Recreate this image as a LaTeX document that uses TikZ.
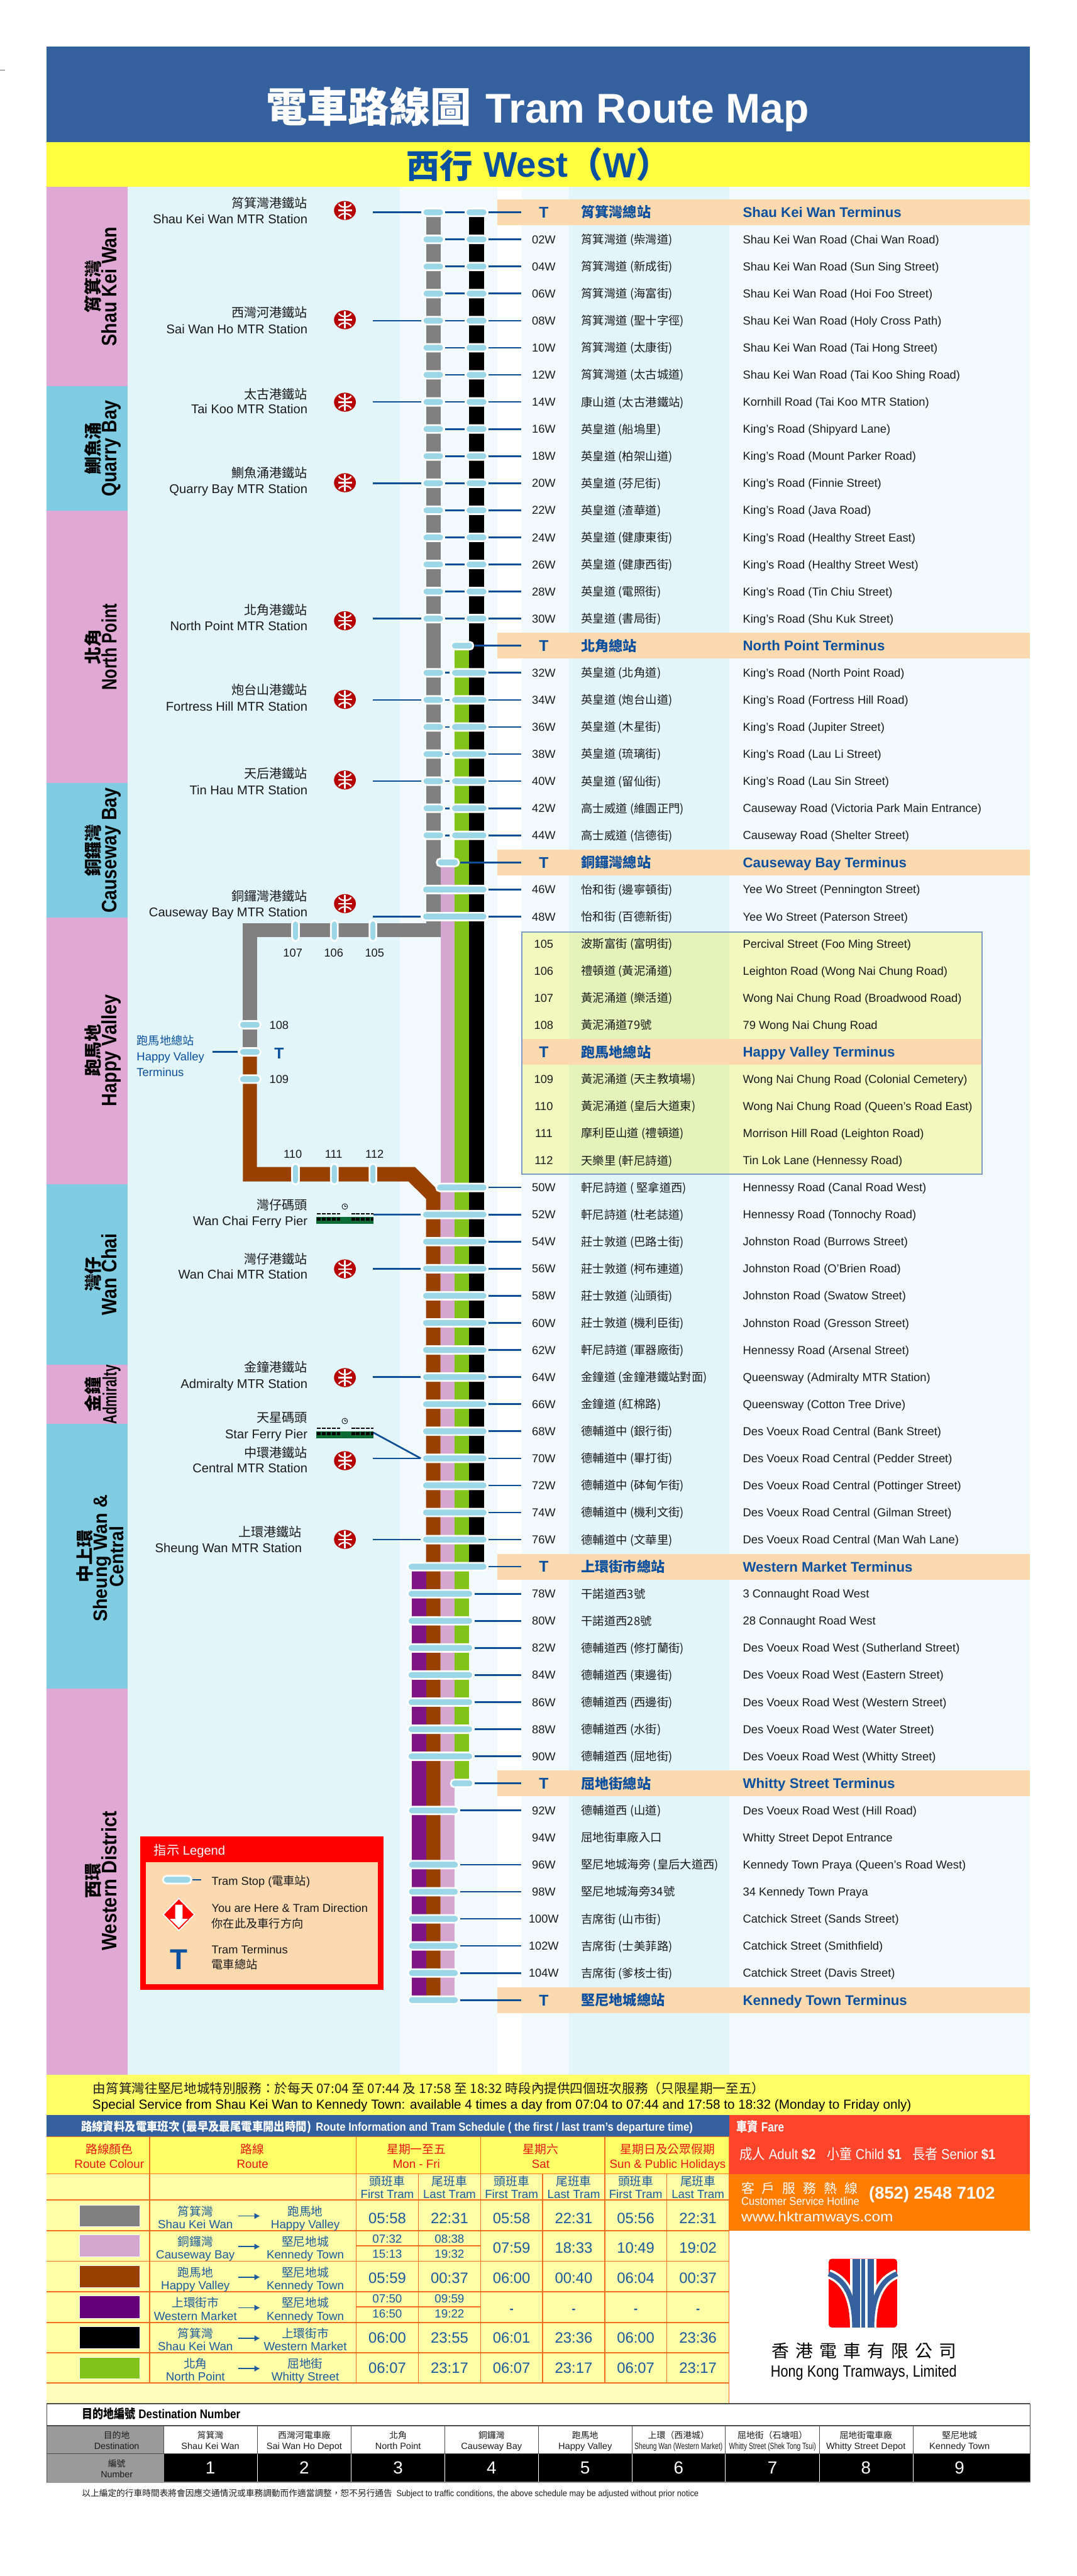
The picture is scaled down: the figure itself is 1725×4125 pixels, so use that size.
\documentclass[tikz,border=0pt]{standalone}
\usepackage{fontspec}
\usepackage{graphicx}
\setmainfont{Liberation Sans}
\newfontfamily\cj{Noto Sans CJK TC}
\usetikzlibrary{shapes.geometric,arrows.meta}
\definecolor{hdrblue}{HTML}{35629F}
\definecolor{hdryel}{HTML}{FFFF40}
\definecolor{notyel}{HTML}{FFFF66}
\definecolor{tabyel}{HTML}{FFFFA8}
\definecolor{botyel}{HTML}{FFFCBC}
\definecolor{dpink}{HTML}{E0A9D5}
\definecolor{dcyan}{HTML}{80CDE3}
\definecolor{bgc}{HTML}{E2F5FA}
\definecolor{bgl}{HTML}{F2FAFD}
\definecolor{band}{HTML}{FDD9B0}
\definecolor{boxl}{HTML}{F2F9BF}
\definecolor{boxd}{HTML}{E3F3B9}
\definecolor{boxline}{HTML}{7F9CC8}
\definecolor{rgrey}{HTML}{808080}
\definecolor{rlilac}{HTML}{D5A6D0}
\definecolor{rgreen}{HTML}{82C31A}
\definecolor{rbrown}{HTML}{984000}
\definecolor{rpurple}{HTML}{7F1484}
\definecolor{swpurple}{HTML}{660078}
\definecolor{pillc}{HTML}{9CD7E8}
\definecolor{lineblue}{HTML}{0C4F97}
\definecolor{tblue}{HTML}{0A509E}
\definecolor{tabblue}{HTML}{1B5A9C}
\definecolor{txtc}{HTML}{1A1A1A}
\definecolor{mtrred}{HTML}{B60000}
\definecolor{tabline}{HTML}{F07020}
\definecolor{tabred}{HTML}{E8170F}
\definecolor{farered}{HTML}{FE442A}
\definecolor{fareor}{HTML}{FF7D00}
\definecolor{ferryg}{HTML}{0B6B35}
\definecolor{destgrey}{HTML}{9A9A9A}
\newcommand\fitw[2]{\resizebox{#1pt}{\height}{#2}}
\tikzset{
 txt/.style={inner sep=0pt,outer sep=0pt,text=txtc},
 tl/.style={txt,anchor=base west},
 tr/.style={txt,anchor=base east},
 tc/.style={txt,anchor=base},
 fs/.style={font=\fontsize{#1}{#1}\selectfont},
 fb/.style={font=\fontsize{#1}{#1}\selectfont\bfseries},
 pill/.style={rectangle,inner sep=0pt,outer sep=2.2pt,draw=white,line width=2.75pt,fill=pillc,rounded corners=5.5pt,minimum height=12.25pt},
 conn/.style={lineblue,line width=2.7pt},
 gridl/.style={tabline,line width=1.6pt},
 destl/.style={black!70,line width=1.5pt},
 distname/.style={txt,anchor=base,rotate=90,text=black},
}
\newcommand\hstop[4]{\node[pill,minimum width=#3pt-#2pt+2.75pt] (#1) at ({(#2+#3)/2},#4) {};}
\newcommand\vstop[2]{\node[pill,minimum width=11pt,minimum height=33pt] (#1) at (#2) {};}
\newcommand\mtrlogo[3]{%
 \node[ellipse,fill=mtrred,draw=none,minimum width=35pt,minimum height=30.5pt,inner sep=0pt] (#1) at (#2,#3) {};
 \begin{scope}[shift={(#2,#3)},white,line width=2.3pt]
 \draw (0,-14) -- (0,14);
 \draw (-11,0) -- (11,0);
 \draw (-10,-10) .. controls (-6,-3.5) and (6,-3.5) .. (10,-10);
 \draw (-10,10) .. controls (-6,3.5) and (6,3.5) .. (10,10);
 \end{scope}}
\newcommand\ferryicon[1]{%
 \begin{scope}[shift={(0,#1)}]
 \draw[black,line width=.8pt] (552.3,-11.5) circle (4.5);
 \draw[black,line width=.6pt] (552.3,-14) -- (552.3,-11.5) -- (554.5,-11.5);
 \fill[bgc!80!white] (545,-4) -- (552,-6) -- (562.5,-4) -- (562.5,5.5) -- (545,5.5) -- cycle;
 \draw[black,line width=1.6pt,dash pattern=on 6pt off 2pt] (508,0) -- (545,0);
 \draw[black,line width=1.6pt,dash pattern=on 6pt off 2pt] (562.5,0) -- (598,0);
 \fill[ferryg] (506.4,5) rectangle (598,15.8);
 \draw[black,line width=4.5pt,dash pattern=on 6pt off 2pt] (508,8.5) -- (545,8.5);
 \draw[black,line width=4.5pt,dash pattern=on 6pt off 2pt] (562.5,8.5) -- (598,8.5);
 \end{scope}}
\begin{document}
\begin{tikzpicture}[x=1pt,y=-1pt]
\useasboundingbox (0,0) rectangle (1725,4125);
\fill[white] (0,0) rectangle (1725,4125);
\draw[black!60,line width=.8pt] (0,112) -- (8,112);
% header
\fill[hdrblue] (75,75) rectangle (1650,228);
\fill[hdryel] (75,228) rectangle (1650,299);
\node[tl,fb=65.7,text=white] (titlezh) at (426.5,196) {\cj 電車路線圖};
\node[tl,fb=66.6,text=white] (titleen) at (778,197) {Tram Route Map};
\node[tl,fb=53,text=tblue] (dirzh) at (651.5,285) {\cj 西行};
\node[tl,fb=57,text=tblue] (diren) at (775,283.5) {West};
\node[tl,fb=56,text=tblue] (dirw) at (910,284) {{\cj （}W{\cj ）}};
% column backgrounds
\fill[bgc] (204,299) rectangle (640,3322);
\fill[bgl] (640,299) rectangle (797,3322);
\fill[white] (797,299) rectangle (835.5,3322);
\fill[bgl] (835.5,299) rectangle (911,3322);
\fill[bgc] (911,299) rectangle (1168,3322);
\fill[bgl] (1168,299) rectangle (1650,3322);
% districts
\fill[dpink] (75,299) rectangle (204,618.3);
\fill[dcyan] (75,618.3) rectangle (204,818);
\fill[dpink] (75,818) rectangle (204,1254);
\fill[dcyan] (75,1254) rectangle (204,1469.4);
\fill[dpink] (75,1469.4) rectangle (204,1896);
\fill[dcyan] (75,1896) rectangle (204,2185);
\fill[dpink] (75,2185) rectangle (204,2280.5);
\fill[dcyan] (75,2280.5) rectangle (204,2704);
\fill[dpink] (75,2704) rectangle (204,3322);
\foreach \k/\yy/\zh/\en/\wdh in {a/458.7/筲箕灣/Shau Kei Wan/191,b/718/鰂魚涌/Quarry Bay/154.7,c/1036/北角/North Point/138.7,d/1361.7/銅鑼灣/Causeway Bay/201,e/1682/跑馬地/Happy Valley/179,f/2040.5/灣仔/Wan Chai/130.8,h/3012/西環/Western District/223.7}{
 \node[distname,fb=28] (dz\k) at (159.3,\yy) {\cj \zh};
 \node[distname,fb=33.5] (de\k) at (186.6,\yy) {\fitw{\wdh}{\en}};
}
\node[distname,fb=28] (dzg) at (159.3,2233) {\cj 金鐘};
\node[distname,fb=31] (deg) at (186.6,2233) {\fitw{95}{Admiralty}};
\node[distname,fb=28] (dzs) at (146.4,2492) {\cj 中上環};
\node[distname,fb=31] (des1) at (172.2,2495.5) {\fitw{203}{Sheung Wan \&}};
\node[distname,fb=31] (des2) at (197.8,2492.8) {\fitw{97.5}{Central}};
% yellow box
\fill[boxl] (835.7,1492.7) rectangle (1572.8,1880);
\fill[boxd] (911,1492.7) rectangle (1168,1880);
% terminus bands
\foreach \rw/\xl/\xr in {0/797/1650,16/797/1650,24/797/1650,50/797/1650,58/797/1650,66/797/1650,31/835.7/1572.8}{
 \pgfmathsetmacro\yy{340+43.375*\rw}
 \fill[band] (\xl,\yy-20.7) rectangle (\xr,\yy+20.7);
}
\draw[boxline,line width=2.4pt] (835.7,1492.7) rectangle (1572.8,1880);
% route bars
\fill[rgrey] (682.5,340) rectangle (705.7,1478);
\fill[rgrey] (389,1478) rectangle (705.7,1501);
\fill[rgrey] (389,1478) rectangle (411.5,1684.5);
\fill[rbrown] (389,1684.5) -- (411.5,1684.5) -- (411.5,1868.7) -- (664.6,1868.7) -- (705.7,1910) -- (705.7,3202.75) -- (682.5,3202.75) -- (682.5,1919.7) -- (654.4,1892) -- (389,1892) -- cycle;
\fill[rlilac] (705.7,1381) rectangle (728.3,3202.75);
\fill[rgreen] (728.3,1034) rectangle (751.7,2855.75);
\fill[black] (751.7,340) rectangle (775,2508.75);
\fill[rpurple] (659.5,2508.75) rectangle (682.5,3202.75);
% stops
\foreach \rw [evaluate=\rw as \yy using 340+43.375*\rw] in {0,...,15}{
 \hstop{g\rw}{678.3}{709.7}{\yy}
 \hstop{s\rw}{747.3}{779.3}{\yy}
 \draw[conn] (g\rw) -- (s\rw);
}
\foreach \rw [evaluate=\rw as \yy using 340+43.375*\rw] in {17,...,23}{
 \hstop{g\rw}{678.3}{709.7}{\yy}
 \hstop{s\rw}{724}{779.3}{\yy}
 \draw[conn] (g\rw) -- (s\rw);
}
\hstop{s16}{724}{756.7}{1034}
\hstop{s24}{701}{733.5}{1381}
\foreach \rw [evaluate=\rw as \yy using 340+43.375*\rw] in {25,26,37,38,39,40,41,42,43,44,45,46,47,48,49}{
 \hstop{s\rw}{677.5}{779.4}{\yy}
}
\hstop{s36}{700}{779.4}{1901.5}
\hstop{s50}{654.3}{779.3}{2508.75}
\foreach \rw [evaluate=\rw as \yy using 340+43.375*\rw] in {51,...,57}{
 \hstop{s\rw}{654.3}{756.5}{\yy}
}
\hstop{s58}{723.5}{756.7}{2855.75}
\foreach \rw [evaluate=\rw as \yy using 340+43.375*\rw] in {59,61,62,63,64,65,66}{
 \hstop{s\rw}{655}{733.5}{\yy}
}
% connectors to the table
\foreach \rw [evaluate=\rw as \yy using 340+43.375*\rw] in {0,...,26,36,37,...,59,61,62,63,64,65,66}{
 \coordinate (e\rw) at (835.3,\yy);
 \draw[conn] (s\rw.east |- e\rw) -- (e\rw);
}
% branch stops
\vstop{b105}{597.3,1490.4}
\vstop{b106}{535.5,1490.4}
\vstop{b107}{473.3,1490.4}
\vstop{b110}{473.3,1880}
\vstop{b111}{535.5,1880}
\vstop{b112}{597.3,1880}
\hstop{b108}{384.5}{416}{1641}
\hstop{bT}{384.5}{416}{1684.5}
\hstop{b109}{384.5}{416}{1728}
\coordinate (hvline) at (340,1684.5);
\draw[conn] (hvline) -- (bT);
\foreach \k/\cx/\yy/\lab in {105/600/1532/105,106/534.5/1532/106,107/469/1532/107,108/447/1647.6/108,109/447/1734.6/109,110/469/1854.4/110,111/534.5/1854.4/111,112/600/1854.4/112}{
 \node[tc,fs=18.4] (lab\k) at (\cx,\yy) {\lab};
}
\node[tc,fb=25,text=tblue] (labT) at (447,1695) {T};
\node[tl,fs=18.4,text=tblue] (hvz) at (219,1673.7) {\cj 跑馬地總站};
\node[tl,fs=18.6,text=tblue] (hve1) at (219,1698.6) {Happy Valley};
\node[tl,fs=18.6,text=tblue] (hve2) at (219,1723.6) {Terminus};
% MTR stations
\foreach \k/\rw/\ly/\zy/\ey/\zh/\en in {
 0/0/337/325.5/351/筲箕灣港鐵站/Shau Kei Wan MTR Station,
 1/4/512/500.4/526.5/西灣河港鐵站/Sai Wan Ho MTR Station,
 2/7/644/631/655/太古港鐵站/Tai Koo MTR Station,
 3/10/773/757/783/鰂魚涌港鐵站/Quarry Bay MTR Station,
 4/15/994/977/1002/北角港鐵站/North Point MTR Station,
 5/18/1120/1105/1131/炮台山港鐵站/Fortress Hill MTR Station,
 6/21/1249/1239/1265/天后港鐵站/Tin Hau MTR Station}{
 \mtrlogo{m\k}{552.5}{\ly}
 \pgfmathsetmacro\lyy{340+43.375*\rw}
 \coordinate (ml\k) at (597,\lyy);
 \draw[conn] (ml\k) -- (g\rw);
 \node[tr,fs=20.3] (mz\k) at (492.5,\zy+7.7) {\cj \zh};
 \node[tr,fs=20.3] (me\k) at (492.5,\ey+7.3) {\en};
}
\foreach \k/\rw/\ly/\zy/\ey/\xr/\zh/\en in {
 7/26/1447/1434.6/1461/492.5/銅鑼灣港鐵站/Causeway Bay MTR Station,
 8/39/2032/2016/2041/492.5/灣仔港鐵站/Wan Chai MTR Station,
 9/43/2206/2189.4/2216/492.5/金鐘港鐵站/Admiralty MTR Station,
 10/46/2339/2326/2351/492.5/中環港鐵站/Central MTR Station,
 11/49/2465/2453.5/2479/483.5/上環港鐵站/Sheung Wan MTR Station}{
 \mtrlogo{m\k}{552.5}{\ly}
 \pgfmathsetmacro\lyy{340+43.375*\rw}
 \coordinate (ml\k) at (597,\lyy);
 \draw[conn] (ml\k) -- (s\rw);
 \node[tr,fs=20.3] (mz\k) at (\xr,\zy+7.7) {\cj \zh};
 \node[tr,fs=20.3] (me\k) at (\xr,\ey+7.3) {\en};
}
% ferries
\ferryicon{1943.5}
\node[tr,fs=20.3] (wfz) at (492.5,1937.3) {\cj 灣仔碼頭};
\node[tr,fs=20.3] (wfe) at (492.5,1962.3) {Wan Chai Ferry Pier};
\coordinate (wfl) at (598,1944.9);
\draw[conn] (wfl) -- (s37);
\ferryicon{2287}
\node[tr,fs=20.3] (sfz) at (492.5,2277.7) {\cj 天星碼頭};
\node[tr,fs=20.3] (sfe) at (492.5,2303.3) {Star Ferry Pier};
\coordinate (sfl) at (598,2294);
\draw[conn] (sfl) -- (s46.west);
% table rows
\foreach \rw/\nm/\zh/\en in {
1/02W/筲箕灣道 (柴灣道)/Shau Kei Wan Road (Chai Wan Road),
2/04W/筲箕灣道 (新成街)/Shau Kei Wan Road (Sun Sing Street),
3/06W/筲箕灣道 (海富街)/Shau Kei Wan Road (Hoi Foo Street),
4/08W/筲箕灣道 (聖十字徑)/Shau Kei Wan Road (Holy Cross Path),
5/10W/筲箕灣道 (太康街)/Shau Kei Wan Road (Tai Hong Street),
6/12W/筲箕灣道 (太古城道)/Shau Kei Wan Road (Tai Koo Shing Road),
7/14W/康山道 (太古港鐵站)/Kornhill Road (Tai Koo MTR Station),
8/16W/英皇道 (船塢里)/King's Road (Shipyard Lane),
9/18W/英皇道 (柏架山道)/King's Road (Mount Parker Road),
10/20W/英皇道 (芬尼街)/King's Road (Finnie Street),
11/22W/英皇道 (渣華道)/King's Road (Java Road),
12/24W/英皇道 (健康東街)/King's Road (Healthy Street East),
13/26W/英皇道 (健康西街)/King's Road (Healthy Street West),
14/28W/英皇道 (電照街)/King's Road (Tin Chiu Street),
15/30W/英皇道 (書局街)/King's Road (Shu Kuk Street),
17/32W/英皇道 (北角道)/King's Road (North Point Road),
18/34W/英皇道 (炮台山道)/King's Road (Fortress Hill Road),
19/36W/英皇道 (木星街)/King's Road (Jupiter Street),
20/38W/英皇道 (琉璃街)/King's Road (Lau Li Street),
21/40W/英皇道 (留仙街)/King's Road (Lau Sin Street),
22/42W/高士威道 (維園正門)/Causeway Road (Victoria Park Main Entrance),
23/44W/高士威道 (信德街)/Causeway Road (Shelter Street),
25/46W/怡和街 (邊寧頓街)/Yee Wo Street (Pennington Street),
26/48W/怡和街 (百德新街)/Yee Wo Street (Paterson Street),
27/105/波斯富街 (富明街)/Percival Street (Foo Ming Street),
28/106/禮頓道 (黃泥涌道)/Leighton Road (Wong Nai Chung Road),
29/107/黃泥涌道 (樂活道)/Wong Nai Chung Road (Broadwood Road),
30/108/黃泥涌道79號/79 Wong Nai Chung Road,
32/109/黃泥涌道 (天主教墳場)/Wong Nai Chung Road (Colonial Cemetery),
33/110/黃泥涌道 (皇后大道東)/Wong Nai Chung Road (Queen's Road East),
34/111/摩利臣山道 (禮頓道)/Morrison Hill Road (Leighton Road),
35/112/天樂里 (軒尼詩道)/Tin Lok Lane (Hennessy Road),
36/50W/軒尼詩道 ( 堅拿道西)/Hennessy Road (Canal Road West),
37/52W/軒尼詩道 (杜老誌道)/Hennessy Road (Tonnochy Road),
38/54W/莊士敦道 (巴路士街)/Johnston Road (Burrows Street),
39/56W/莊士敦道 (柯布連道)/Johnston Road (O'Brien Road),
40/58W/莊士敦道 (汕頭街)/Johnston Road (Swatow Street),
41/60W/莊士敦道 (機利臣街)/Johnston Road (Gresson Street),
42/62W/軒尼詩道 (軍器廠街)/Hennessy Road (Arsenal Street),
43/64W/金鐘道 (金鐘港鐵站對面)/Queensway (Admiralty MTR Station),
44/66W/金鐘道 (紅棉路)/Queensway (Cotton Tree Drive),
45/68W/德輔道中 (銀行街)/Des Voeux Road Central (Bank Street),
46/70W/德輔道中 (畢打街)/Des Voeux Road Central (Pedder Street),
47/72W/德輔道中 (砵甸乍街)/Des Voeux Road Central (Pottinger Street),
48/74W/德輔道中 (機利文街)/Des Voeux Road Central (Gilman Street),
49/76W/德輔道中 (文華里)/Des Voeux Road Central (Man Wah Lane),
51/78W/干諾道西3號/3 Connaught Road West,
52/80W/干諾道西28號/28 Connaught Road West,
53/82W/德輔道西 (修打蘭街)/Des Voeux Road West (Sutherland Street),
54/84W/德輔道西 (東邊街)/Des Voeux Road West (Eastern Street),
55/86W/德輔道西 (西邊街)/Des Voeux Road West (Western Street),
56/88W/德輔道西 (水街)/Des Voeux Road West (Water Street),
57/90W/德輔道西 (屈地街)/Des Voeux Road West (Whitty Street),
59/92W/德輔道西 (山道)/Des Voeux Road West (Hill Road),
60/94W/屈地街車廠入口/Whitty Street Depot Entrance,
61/96W/堅尼地城海旁 (皇后大道西)/Kennedy Town Praya (Queen's Road West),
62/98W/堅尼地城海旁34號/34 Kennedy Town Praya,
63/100W/吉席街 (山市街)/Catchick Street (Sands Street),
64/102W/吉席街 (士美菲路)/Catchick Street (Smithfield),
65/104W/吉席街 (爹核士街)/Catchick Street (Davis Street)}{
 \pgfmathsetmacro\yy{340+43.375*\rw}
 \node[tc,fs=18.4] (n\rw) at (871,\yy+6.6) {\nm};
 \node[tl,fs=18.5] (z\rw) at (931,\yy+7) {\cj \zh};
 \node[tl,fs=18.5] (r\rw) at (1190,\yy+6.6) {\en};
}
\foreach \rw/\zh/\en in {0/筲箕灣總站/Shau Kei Wan Terminus,16/北角總站/North Point Terminus,24/銅鑼灣總站/Causeway Bay Terminus,31/跑馬地總站/Happy Valley Terminus,50/上環街市總站/Western Market Terminus,58/屈地街總站/Whitty Street Terminus,66/堅尼地城總站/Kennedy Town Terminus}{
 \pgfmathsetmacro\yy{340+43.375*\rw}
 \node[tc,fb=25,text=tblue] (n\rw) at (871,\yy+8.9) {T};
 \node[tl,fb=22.3,text=tblue] (z\rw) at (931,\yy+8.4) {\cj \zh};
 \node[tl,fb=22.4,text=tblue] (r\rw) at (1190,\yy+8) {\en};
}
% legend
\fill[red] (224.3,2941) rectangle (614.6,3186.7);
\fill[band] (234,2981.7) rectangle (605.4,3177);
\node[tl,fs=20.3,text=white] (legt) at (246.7,2970) {{\cj 指示} Legend};
\hstop{legpill}{262.5}{305}{3010}
\coordinate (legdash) at (322,3010);
\draw[conn] (legpill) -- (legdash);
\node[tl,fs=18.4] (leg1) at (339,3018.6) {Tram Stop ({\cj 電車站})};
\fill[red,draw=white,line width=1.8pt] (286.5,3040) -- (311.5,3065.7) -- (286.5,3091.5) -- (261.5,3065.7) -- cycle;
\fill[white] (280.5,3050) -- (292.5,3050) -- (292.5,3072.7) -- (301,3072.7) -- (286.5,3087) -- (272,3072.7) -- (280.5,3072.7) -- cycle;
\node[tl,fs=18.4] (leg2) at (339,3061.6) {You are Here \& Tram Direction};
\node[tl,fs=18.4] (leg3) at (339,3087) {\cj 你在此及車行方向};
\node[tc,fb=46,text=tblue] (legT) at (286.5,3154) {T};
\node[tl,fs=18.4] (leg4) at (339,3128.6) {Tram Terminus};
\node[tl,fs=18.4] (leg5) at (339,3152.7) {\cj 電車總站};
% notice
\fill[notyel] (75,3322) rectangle (1650,3386.5);
\node[tl,fs=20.8] (notz) at (149,3352.5) {\fitw{1076}{\cj 由筲箕灣往堅尼地城特別服務：於每天 07:04 至 07:44 及 17:58 至 18:32 時段內提供四個班次服務（只限星期一至五）}};
\node[tl,fs=21,text=black] (note) at (148,3377.5) {\fitw{1311.8}{Special Service from Shau Kei Wan to Kennedy Town: available 4 times a day from 07:04 to 07:44 and 17:58 to 18:32 (Monday to Friday only)}};
% schedule table
\fill[hdrblue] (75,3386.5) rectangle (1167.7,3421.7);
\node[tl,fb=19,text=white] (schz) at (130,3412.5) {\fitw{368.6}{\cj 路線資料及電車班次 (最早及最尾電車開出時間)}};
\node[tl,fb=19,text=white] (sche) at (506,3412) {\fitw{603.6}{Route Information and Tram Schedule ( the first / last tram's departure time)}};
\fill[notyel] (75,3421.7) rectangle (1167.7,3481);
\fill[tabyel] (75,3481) rectangle (1167.7,3816);
\fill[botyel] (75,3816) rectangle (1167.7,3848);
\foreach \k/\yy in {1/3421.7,2/3481,3/3523,4/3572,5/3621,6/3669.7,7/3719,8/3767.6,9/3816}{
 \draw[gridl] (75,\yy) -- (1167.7,\yy);
}
\foreach \xx in {239.4,570.7,769.8,968.6}{ \draw[gridl] (\xx,3421.7) -- (\xx,3816); }
\foreach \xx in {670,869,1068}{ \draw[gridl] (\xx,3481) -- (\xx,3816); }
\draw[gridl] (1167.7,3421.7) -- (1167.7,3848);
\draw[gridl] (570.7,3596) -- (769.8,3596);
\draw[gridl] (570.7,3693.8) -- (769.8,3693.8);
\foreach \k/\cx/\zh/\en in {a/175/路線顏色/Route Colour,b/404.5/路線/Route,c/667/星期一至五/Mon - Fri,d/866/星期六/Sat,e/1069.5/星期日及公眾假期/Sun \& Public Holidays}{
 \node[tc,fs=18.9,text=tabred] (hz\k) at (\cx,3448.5) {\cj \zh};
 \node[tc,fs=18.9,text=tabred] (he\k) at (\cx,3472.3) {\en};
}
\foreach \k/\cx/\zh/\en in {1/620.3/頭班車/First Tram,2/720/尾班車/Last Tram,3/819.4/頭班車/First Tram,4/919/尾班車/Last Tram,5/1018.3/頭班車/First Tram,6/1118/尾班車/Last Tram}{
 \node[tc,fs=18.9,text=tabblue] (sz\k) at (\cx,3500) {\cj \zh};
 \node[tc,fs=18.9,text=tabblue] (se\k) at (\cx,3520.2) {\en};
}
\foreach \k/\ya/\yb/\col/\cy/\za/\ea/\zb/\eb in {
 1/3530.7/3565/rgrey/3547.5/筲箕灣/Shau Kei Wan/跑馬地/Happy Valley,
 2/3579/3614/rlilac/3596.5/銅鑼灣/Causeway Bay/堅尼地城/Kennedy Town,
 3/3627.6/3662.8/rbrown/3645.4/跑馬地/Happy Valley/堅尼地城/Kennedy Town,
 4/3676.5/3712/swpurple/3694.4/上環街市/Western Market/堅尼地城/Kennedy Town,
 5/3725.5/3760.7/black/3743.3/筲箕灣/Shau Kei Wan/上環街市/Western Market,
 6/3774.5/3809/rgreen/3791.8/北角/North Point/屈地街/Whitty Street}{
 \fill[\col,draw=white,line width=.8pt] (127.5,\ya) rectangle (224,\yb);
 \node[tc,fs=18.9,text=tabblue] (ra\k) at (313,\cy+.5) {\cj \za};
 \node[tc,fs=18.9,text=tabblue] (rb\k) at (313,\cy+20.8) {\ea};
 \node[tc,fs=18.9,text=tabblue] (rc\k) at (489,\cy+.5) {\cj \zb};
 \node[tc,fs=18.9,text=tabblue] (rd\k) at (489,\cy+20.8) {\eb};
 \coordinate (ar\k) at (381.4,\cy+1);
 \coordinate (br\k) at (416.6,\cy+1);
 \draw[-{Latex[length=9pt,width=10pt]},tabblue,line width=1.8pt] (ar\k) -- (br\k);
}
\foreach \k/\cx/\cy/\v in {
 a/620.3/3551.4/05:58,b/720/3551.4/22:31,c/819.4/3551.4/05:58,d/919/3551.4/22:31,e/1018.3/3551.4/05:56,f/1118/3551.4/22:31,
 g/819.4/3599.7/07:59,h/919/3599.7/18:33,i/1018.3/3599.7/10:49,j/1118/3599.7/19:02,
 k/620.3/3647.4/05:59,l/720/3647.4/00:37,m/819.4/3647.4/06:00,n/919/3647.4/00:40,o/1018.3/3647.4/06:04,p/1118/3647.4/00:37,
 q/620.3/3743.4/06:00,r/720/3743.4/23:55,s/819.4/3743.4/06:01,t/919/3743.4/23:36,u/1018.3/3743.4/06:00,v/1118/3743.4/23:36,
 w/620.3/3791.4/06:07,x/720/3791.4/23:17,y/819.4/3791.4/06:07,z/919/3791.4/23:17,A/1018.3/3791.4/06:07,B/1118/3791.4/23:17}{
 \node[tc,fs=24,text=tabblue] (tm\k) at (\cx,\cy+8.6) {\v};
}
\foreach \k/\cx/\cy/\v in {a/620.3/3585/07:32,b/720/3585/08:38,c/620.3/3609.3/15:13,d/720/3609.3/19:32,e/620.3/3681/07:50,f/720/3681/09:59,g/620.3/3705/16:50,h/720/3705/19:22}{
 \node[tc,fs=18.9,text=tabblue] (ts\k) at (\cx,\cy+6.8) {\v};
}
\foreach \k/\cx in {1/819.4,2/919,3/1018.3,4/1118}{
 \node[tc,fb=18.9,text=tabblue] (td\k) at (\cx,3703) {-};
}
% fare panels
\fill[farered] (1167.7,3386.5) rectangle (1650,3481);
\fill[fareor] (1167.7,3481) rectangle (1650,3572);
\node[tl,fb=21,text=white] (fare0) at (1180,3413) {\fitw{76}{{\cj 車資} Fare}};
\node[tl,fs=23,text=white] (fare1) at (1184.7,3458) {\fitw{122}{{\cj 成人} Adult \textbf{\$2}}};
\node[tl,fs=23,text=white] (fare2) at (1325,3458) {\fitw{119}{{\cj 小童} Child \textbf{\$1}}};
\node[tl,fs=23,text=white] (fare3) at (1461.7,3458) {\fitw{132.7}{{\cj 長者} Senior \textbf{\$1}}};
\node[tl,fs=21,text=white] (hot1) at (1187.5,3512) {\cj 客\kern12pt戶\kern12pt服\kern12pt務\kern12pt熱\kern12pt線};
\node[tl,fs=18.4,text=white] (hot2) at (1187.5,3531) {\fitw{189}{Customer Service Hotline}};
\node[tl,fb=27.5,text=white] (hot3) at (1392,3521.7) {(852) 2548 7102};
\node[tl,fs=22,text=white] (hot4) at (1187.5,3557.5) {\fitw{243}{www.hktramways.com}};
% company logo
\fill[red,rounded corners=5pt] (1327.4,3617) rectangle (1437,3727);
\fill[white] (1362,3617) rectangle (1403.4,3727);
\foreach \xs/\xe/\xm in {1327.4/1369/1352,1437/1396.4/1413.4}{
 \draw[white,line width=15pt] (\xs,3641) .. controls (\xm,3650) and (\xe,3675) .. (\xe,3727);
}
\fill[red] (1327.4,3655) -- (1327.4,3722) -- (1332,3727) -- (1357,3727) .. controls (1357,3685) and (1345,3660) .. (1327.4,3652) -- cycle;
\fill[red] (1437,3652) .. controls (1419.4,3660) and (1408.4,3685) .. (1408.4,3727) -- (1432.4,3727) -- (1437,3722) -- cycle;
\foreach \xs/\xe/\xm in {1327.4/1369/1352,1437/1396.4/1413.4}{
 \draw[hdrblue,line width=8pt] (\xs,3641) .. controls (\xm,3650) and (\xe,3675) .. (\xe,3727);
}
\fill[hdrblue] (1366,3617) rectangle (1377.3,3727);
\fill[hdrblue] (1380,3617) rectangle (1385.5,3727);
\fill[hdrblue] (1389.4,3617) rectangle (1400.3,3727);
\node[tl,fs=28,text=black] (coz) at (1236,3775) {\cj 香\kern10.3pt港\kern10.3pt電\kern10.3pt車\kern10.3pt有\kern10.3pt限\kern10.3pt公\kern10.3pt司};
\node[tl,fs=26,text=black] (coe) at (1234.6,3806) {\fitw{298}{Hong Kong Tramways, Limited}};
% destination table
\fill[white] (75,3849) rectangle (1650,3975);
\fill[destgrey] (75,3884.3) rectangle (262.4,3975);
\fill[black] (262.4,3929.3) rectangle (1650,3975);
\node[tl,fb=20,text=black] (dt) at (131.3,3873) {\fitw{253.7}{{\cj 目的地編號} Destination Number}};
\node[tc,fs=14] (dzh) at (187,3905) {\cj 目的地};
\node[tc,fs=14.4] (den) at (187,3922.3) {Destination};
\node[tc,fs=14] (nzh) at (187,3950) {\cj 編號};
\node[tc,fs=14.4] (nen) at (187,3967) {Number};
\foreach \k/\cx/\zh/\en/\wdh in {1/337/筲箕灣/Shau Kei Wan/93,2/487.3/西灣河電車廠/Sai Wan Ho Depot/121,3/637.6/北角/North Point/73,4/787.4/銅鑼灣/Causeway Bay/97.5,5/937.3/跑馬地/Happy Valley/86,6/1087/上環（西港城）/Sheung Wan (Western Market)/141,7/1237.4/屈地街（石塘咀）/Whitty Street (Shek Tong Tsui)/139,8/1387/屈地街電車廠/Whitty Street Depot/127,9/1537/堅尼地城/Kennedy Town/97}{
 \node[tc,fs=14] (cz\k) at (\cx,3905) {\cj \zh};
 \node[tc,fs=14.4] (ce\k) at (\cx,3922.3) {\fitw{\wdh}{\en}};
 \node[tc,fs=28,text=white] (cn\k) at (\cx,3961) {\k};
}
\foreach \xx in {412.7,562.5,712.8,862.5,1012.5,1162,1312.5,1462.3}{
 \draw[destl,line width=1pt] (\xx,3884.3) -- (\xx,3929.3);
 \draw[white,line width=.8pt] (\xx,3929.3) -- (\xx,3975);
}
\draw[destl] (75,3849) -- (1650,3849);
\draw[destl] (75,3884.3) -- (1650,3884.3);
\draw[destl] (75,3929.3) -- (1650,3929.3);
\draw[destl,black!40] (75,3975) -- (1650,3975);
\draw[destl,line width=1pt] (262.4,3884.3) -- (262.4,3929.3);
\draw[destl,line width=1pt] (75,3849) -- (75,3975);
\draw[destl,line width=1pt] (1650,3849) -- (1650,3975);
\node[tl,fs=13.8] (fnz) at (131.3,3998) {\fitw{497}{\cj 以上編定的行車時間表將會因應交通情況或車務調動而作適當調整，恕不另行通告}};
\node[tl,fs=14] (fne) at (635,3997.5) {\fitw{484}{Subject to traffic conditions, the above schedule may be adjusted without prior notice}};
\end{tikzpicture}
\end{document}
